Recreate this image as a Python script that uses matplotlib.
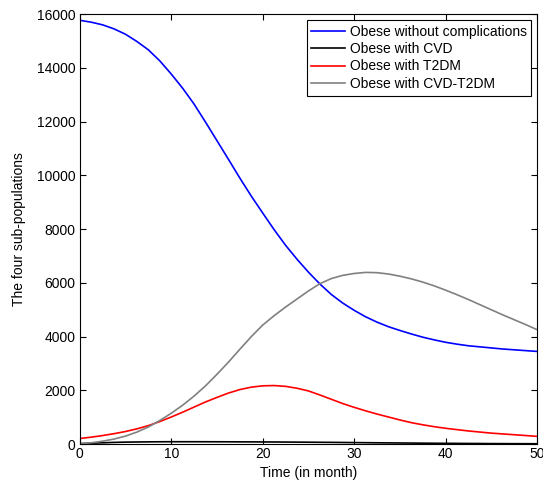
import matplotlib.pyplot as plt

plt.rcParams['font.family'] = ['Liberation Sans', 'DejaVu Sans']

# time (months)
t = [0, 1.25, 2.5, 3.75, 5, 6.25, 7.5, 8.75, 10, 11.25, 12.5, 13.75, 15,
     16.25, 17.5, 18.75, 20, 21.25, 22.5, 23.75, 25, 26.25, 27.5, 28.75, 30,
     31.25, 32.5, 33.75, 35, 36.25, 37.5, 38.75, 40, 41.25, 42.5, 43.75, 45,
     46.25, 47.5, 48.75, 50]

obese = [15770, 15700, 15600, 15450, 15250, 14980, 14670, 14260, 13770, 13240,
         12650, 11980, 11290, 10600, 9900, 9230, 8600, 7980, 7400, 6880,
         6400, 5960, 5570, 5250, 4980, 4740, 4540, 4370, 4230, 4100,
         3980, 3880, 3790, 3720, 3660, 3620, 3580, 3540, 3510, 3480, 3450]
cvd = [20, 35, 50, 65, 75, 80, 85, 88, 90, 90, 90, 89, 88, 87, 85, 84,
       82, 80, 78, 75, 72, 69, 66, 62, 58, 54, 50, 47, 43, 40, 36, 33,
       30, 28, 25, 23, 20, 19, 17, 16, 14]
t2dm = [210, 260, 320, 390, 470, 570, 690, 840, 1010, 1190, 1380, 1570, 1740,
        1900, 2030, 2120, 2170, 2180, 2150, 2080, 1980, 1830, 1670, 1510, 1370,
        1240, 1120, 1010, 900, 800, 720, 650, 590, 540, 490, 450, 410,
        380, 350, 320, 290]
cvd_t2dm = [20, 50, 110, 190, 300, 450, 640, 880, 1150, 1450, 1790, 2170, 2600,
            3050, 3530, 4000, 4430, 4780, 5100, 5400, 5700, 5970, 6160, 6280,
            6350, 6390, 6380, 6330, 6250, 6150, 6030, 5890, 5730, 5560, 5380,
            5190, 5000, 4810, 4630, 4450, 4260]

labels = ["Obese without complications", "Obese with CVD",
          "Obese with T2DM", "Obese with CVD-T2DM"]

fig = plt.figure(figsize=(5.43, 4.87), dpi=100)
ax = fig.add_axes([0.147, 0.088, 0.842, 0.883])

ax.plot(t, obese, color="#0000ff", lw=1.2, label=labels[0])
ax.plot(t, cvd, color="black", lw=1.2, label=labels[1])
ax.plot(t, t2dm, color="#ff0000", lw=1.2, label=labels[2])
ax.plot(t, cvd_t2dm, color="#808080", lw=1.2, label=labels[3])

ax.set_xlim(0, 50)
ax.set_ylim(0, 16000)
ax.set_xticks(range(0, 51, 10))
ax.set_yticks(range(0, 16001, 2000))
ax.tick_params(direction="in", top=True, right=True, length=4, labelsize=10)
ax.tick_params(axis="x", pad=2)
ax.tick_params(axis="y", pad=3)
ax.set_xlabel("Time (in month)", fontsize=10, labelpad=4)
ax.set_ylabel("The four sub-populations", fontsize=10, labelpad=8)

leg = ax.legend(loc="upper right", fontsize=10, fancybox=False, framealpha=1,
                edgecolor="black", borderaxespad=0.4, handlelength=2.45,
                handletextpad=0.3, labelspacing=0.25, borderpad=0.35)
leg.get_frame().set_linewidth(0.8)

plt.savefig("out.png")
